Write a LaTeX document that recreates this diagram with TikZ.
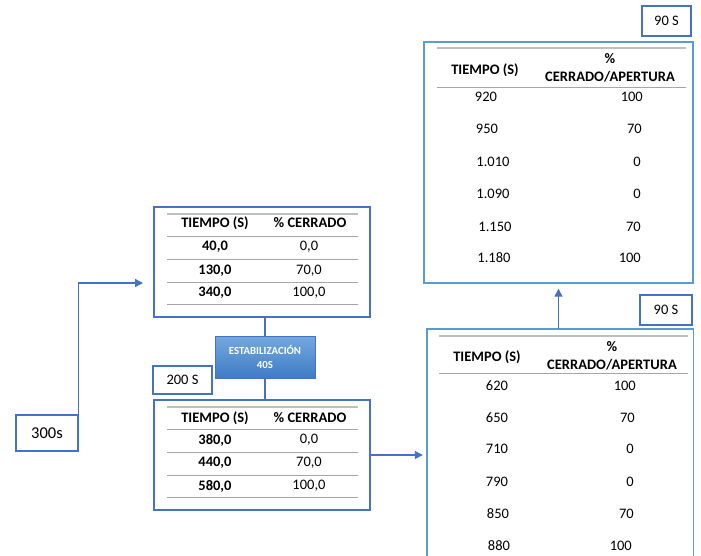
\documentclass[tikz,border=0pt]{standalone}
\usepackage{fontspec}
\setmainfont{Carlito}
\usetikzlibrary{arrows.meta}
\definecolor{boxblue}{HTML}{4472C4}
\definecolor{lightblue}{HTML}{5B9BD5}
\definecolor{rulegray}{HTML}{A6A6A6}
\definecolor{toprule}{HTML}{BFBFBF}
\definecolor{estabtop}{HTML}{74A9DE}
\definecolor{estabbot}{HTML}{3F7CC6}
\newcommand\tabfont{\fontsize{14.5}{18}\selectfont}

\begin{document}
\begin{tikzpicture}[x=1pt,y=-1pt,
  tabbox/.style={draw=boxblue,line width=1.4pt,inner sep=0pt},
  rbox/.style={draw=lightblue,line width=1.4pt,inner sep=0pt},
  tagbox/.style={draw=boxblue,line width=1.4pt,inner sep=0pt,font=\tabfont},
  cell/.style={inner sep=0pt,font=\tabfont},
  hcell/.style={inner sep=0pt,font=\tabfont\bfseries},
  flow/.style={draw=boxblue,line width=1.3pt,-{Triangle[length=8pt,width=8pt]}},
  hrule/.style={draw=rulegray,line width=0.9pt},
  trule/.style={draw=toprule,line width=1.6pt}]
\useasboundingbox (0,0) rectangle (701,556);

% boxes
\node[tabbox,minimum width=216,minimum height=110] (t1) at (262,262) {};
\node[tabbox,minimum width=216,minimum height=110] (t2) at (262,455) {};
\node[draw=boxblue,top color=estabtop,bottom color=estabbot,minimum width=100,minimum height=42,
  inner sep=0pt,align=center,text=white,font=\fontsize{10.8}{14}\selectfont\bfseries] (estab) at (265,357)
  {ESTABILIZACIÓN\\40S};
\node[tagbox,minimum width=59,minimum height=28] (s200) at (182.5,380) {200 S};
\node[tagbox,minimum width=62,minimum height=36,font=\fontsize{16.5}{18}\selectfont] (s300) at (47,433) {300s};
\node[minimum width=266,minimum height=227,inner sep=0pt] (r1) at (560,442.5) {};
\draw[rbox] (r1.south west) |- (r1.north east) -- (r1.south east);
\node[rbox,minimum width=269,minimum height=241] (r2) at (558.5,162.5) {};
\node[tagbox,minimum width=49,minimum height=30] (s90a) at (666.5,21) {90 S};
\node[tagbox,minimum width=52,minimum height=30] (s90b) at (666,310) {90 S};

% connectors
\coordinate (in1) at (143,283);
\draw[flow] (s300.north east) |- (in1);
\draw[draw=boxblue,line width=1.3pt] (estab.north) -- (estab.north |- t1.south);
\draw[draw=boxblue,line width=1.3pt] (estab.south) -- (estab.south |- t2.north);
\draw[flow,shorten >=4pt] (t2.east) -- (t2.east -| r1.west);
\draw[flow,shorten >=5pt] (r1.north -| r2.south) -- (r2.south);

% first table
\draw[trule] (167,214) -- (358,214);
\draw[hrule] (167,236) -- (358,236);
\draw[hrule] (167,259) -- (358,259);
\draw[hrule] (167,282) -- (358,282);
\draw[hrule] (167,304) -- (358,304);
\node[hcell] (h1a) at (215,223) {TIEMPO (S)};
\node[hcell] (h1b) at (310,223) {\% CERRADO};
\node[hcell] (a1) at (215,247) {40,0};
\node[cell] (b1) at (309,247) {0,0};
\node[hcell] (a2) at (215,271) {130,0};
\node[cell] (b2) at (309,271) {70,0};
\node[hcell] (a3) at (215,293) {340,0};
\node[cell] (b3) at (309,293) {100,0};

% second table
\draw[trule] (167,407) -- (358,407);
\draw[hrule] (167,429) -- (358,429);
\draw[hrule] (167,452) -- (358,452);
\draw[hrule] (167,475) -- (358,475);
\draw[hrule] (167,497) -- (358,497);
\node[hcell] (h2a) at (215,418) {TIEMPO (S)};
\node[hcell] (h2b) at (310,418) {\% CERRADO};
\node[hcell] (c1) at (215,440) {380,0};
\node[cell] (d1) at (309,440) {0,0};
\node[hcell] (c2) at (215,463) {440,0};
\node[cell] (d2) at (309,463) {70,0};
\node[hcell] (c3) at (215,486) {580,0};
\node[cell] (d3) at (309,486) {100,0};

% lower right table
\draw[trule] (439,336) -- (688,336);
\draw[hrule] (439,373) -- (688,373);
\node[hcell] (h3a) at (487,357) {TIEMPO (S)};
\node[hcell,align=center] (h3b) at (612,356) {\%\\CERRADO/APERTURA};
\node[cell] (e1) at (497,386) {620};
\node[cell,anchor=east] (f1) at (636,386) {100};
\node[cell] (e2) at (497,418) {650};
\node[cell,anchor=east] (f2) at (635,418) {70};
\node[cell] (e3) at (497,449) {710};
\node[cell,anchor=east] (f3) at (634,449) {0};
\node[cell] (e4) at (497,482) {790};
\node[cell,anchor=east] (f4) at (634,482) {0};
\node[cell] (e5) at (498,514) {850};
\node[cell,anchor=east] (f5) at (634,514) {70};
\node[cell] (e6) at (499,546) {880};
\node[cell,anchor=east] (f6) at (632,546) {100};

% upper right table
\draw[trule] (437,48) -- (686,48);
\draw[hrule] (437,87) -- (686,87);
\node[hcell] (h4a) at (485,70) {TIEMPO (S)};
\node[hcell,align=center] (h4b) at (610,68) {\%\\CERRADO/APERTURA};
\node[cell] (g1) at (486,97) {920};
\node[cell,anchor=east] (k1) at (643,97) {100};
\node[cell] (g2) at (487,129) {950};
\node[cell,anchor=east] (k2) at (642,129) {70};
\node[cell] (g3) at (493,162) {1.010};
\node[cell,anchor=east] (k3) at (641,162) {0};
\node[cell] (g4) at (493,194) {1.090};
\node[cell,anchor=east] (k4) at (641,194) {0};
\node[cell] (g5) at (495,227) {1.150};
\node[cell,anchor=east] (k5) at (641,227) {70};
\node[cell] (g6) at (494,258) {1.180};
\node[cell,anchor=east] (k6) at (641,258) {100};
\end{tikzpicture}
\end{document}
